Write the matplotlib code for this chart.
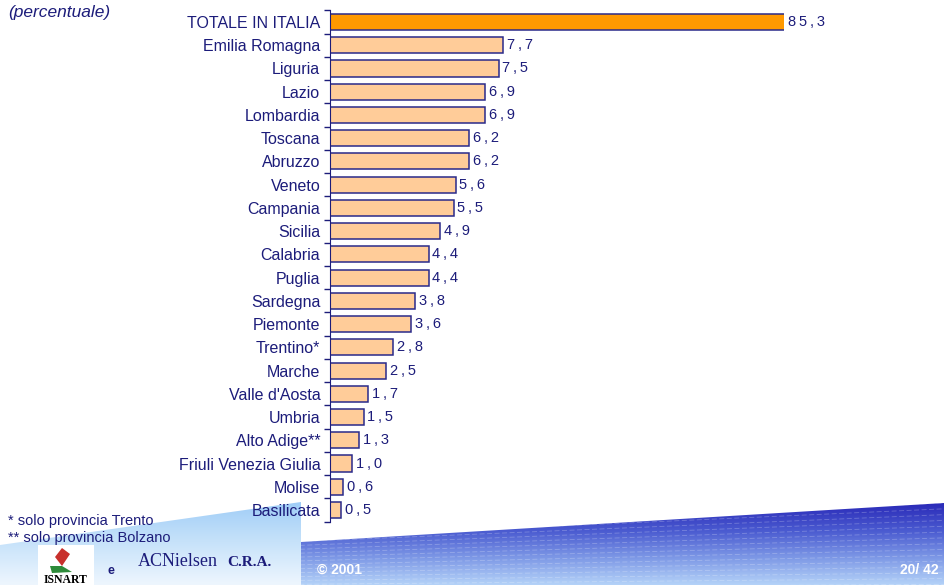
import numpy as np
import matplotlib.pyplot as plt
from matplotlib.colors import LinearSegmentedColormap
from matplotlib.patches import Polygon, Rectangle

plt.rcParams['font.family'] = ['Liberation Sans', 'DejaVu Sans']

# dati (percentuale)
regioni = ['TOTALE IN ITALIA', 'Emilia Romagna', 'Liguria', 'Lazio', 'Lombardia',
           'Toscana', 'Abruzzo', 'Veneto', 'Campania', 'Sicilia', 'Calabria',
           'Puglia', 'Sardegna', 'Piemonte', 'Trentino*', 'Marche',
           "Valle d'Aosta", 'Umbria', 'Alto Adige**', 'Friuli Venezia Giulia',
           'Molise', 'Basilicata']
valori = [85.3, 7.7, 7.5, 6.9, 6.9, 6.2, 6.2, 5.6, 5.5, 4.9, 4.4,
          4.4, 3.8, 3.6, 2.8, 2.5, 1.7, 1.5, 1.3, 1.0, 0.6, 0.5]

navy = '#1c1c7a'
W, H = 944, 585
fig = plt.figure(figsize=(W / 100, H / 100), dpi=100)

# sfondo in basso (fasce blu)
bg = fig.add_axes([0, 0, 1, 1], zorder=-1)
bg.set_xlim(0, W)
bg.set_ylim(H, 0)
bg.axis('off')

grad_v = np.linspace(0, 1, 200).reshape(-1, 1)

# fascia chiara a sinistra
cmap_chiaro = LinearSegmentedColormap.from_list('chiaro', ['#9fcdf7', '#c8e3fa', '#eef6fe'])
poly_chiaro = Polygon([(0, 545), (301, 502), (301, H), (0, H)], closed=True,
                      facecolor='none', edgecolor='none')
bg.add_patch(poly_chiaro)
im2 = bg.imshow(grad_v, cmap=cmap_chiaro, extent=(0, 301, H, 502), aspect='auto')
im2.set_clip_path(poly_chiaro)

# fascia blu scura
cmap_blu = LinearSegmentedColormap.from_list(
    'blu', ['#2a2ab8', '#4a5ad0', '#7d98e6', '#b4d2f8'])
poly_blu = Polygon([(301, 542), (W, 503), (W, H), (301, H)], closed=True,
                   facecolor='none', edgecolor='none')
bg.add_patch(poly_blu)
im = bg.imshow(grad_v, cmap=cmap_blu, extent=(301, W, H, 503), aspect='auto')
im.set_clip_path(poly_blu)

# righe chiare sulla fascia
for k in range(16):
    t = k / 16
    l, = bg.plot([0, W], [548 + k * 3, 548 + k * 3 - 45 * (1 - t)],
                 color='white', lw=0.6, alpha=0.25, ls=(0, (6, 3)))
    l.set_clip_path(poly_blu)

# loghi
bg.add_patch(Rectangle((38, 545), 56, 40, facecolor='white', edgecolor='none'))
bg.add_patch(Polygon([(55, 557), (62, 548), (70, 554), (62, 566)], closed=True,
                     facecolor='#c8302c', edgecolor='none'))
bg.add_patch(Polygon([(50, 566), (62, 566), (72, 572), (52, 573)], closed=True,
                     facecolor='#2e8b3a', edgecolor='none'))

# grafico
ax = fig.add_axes([330 / W, 1 - 521.6 / H, 454 / W, 511.2 / H])
y = np.arange(len(regioni))
colori = ['#ff9900'] + ['#ffcc99'] * (len(regioni) - 1)
ax.barh(y, valori, height=0.69, color=colori, edgecolor='#2a2a8a', linewidth=1.1)
ax.set_xlim(0, 20.2)
ax.set_ylim(len(regioni) - 0.5, -0.5)

for yi, v in zip(y, valori):
    testo = '\u2009'.join(f'{v:.1f}'.replace('.', ','))
    xv = min(v, 20.2)
    ax.text(xv + 0.16, yi, testo, va='center', ha='left', fontsize=10.5,
            color=navy, clip_on=False)

ax.set_yticks(y)
ax.set_yticklabels(regioni, fontsize=11.5, color=navy)
ax.tick_params(axis='y', which='major', length=0, pad=7)
ax.set_yticks(np.arange(len(regioni) + 1) - 0.5, minor=True)
ax.tick_params(axis='y', which='minor', length=4, color=navy, width=1)
ax.set_xticks([])
for s in ['top', 'right', 'bottom']:
    ax.spines[s].set_visible(False)
ax.spines['left'].set_color(navy)
ax.patch.set_alpha(0)

# testi
fig.text(8 / W, 1 - 12 / H, '(percentuale)', fontsize=12.5, style='italic',
         color=navy, va='center')
fig.text(8 / W, 1 - 521 / H, '* solo provincia Trento', fontsize=10.5, color=navy, va='center')
fig.text(8 / W, 1 - 538 / H, '** solo provincia Bolzano', fontsize=10.5, color=navy, va='center')
fig.text(66 / W, 1 - 580 / H, 'ISNART', fontsize=8.5, family='Liberation Serif',
         weight='bold', color='black', ha='center', va='center')
fig.text(107 / W, 1 - 571 / H, 'e', fontsize=9, weight='bold', color=navy, va='center')
fig.text(138 / W, 1 - 561 / H, 'ACNielsen', fontsize=13, family='Liberation Serif',
         color=navy, va='center')
fig.text(227 / W, 1 - 562 / H, 'C.R.A.', fontsize=11, family='Liberation Serif',
         weight='bold', color=navy, va='center')
fig.text(317 / W, 1 - 570 / H, '© 2001', fontsize=10, weight='bold', color='white', va='center')
fig.text(900 / W, 1 - 570 / H, '20/ 42', fontsize=10, weight='bold', color='white', va='center')

fig.savefig('out.png', dpi=100)
